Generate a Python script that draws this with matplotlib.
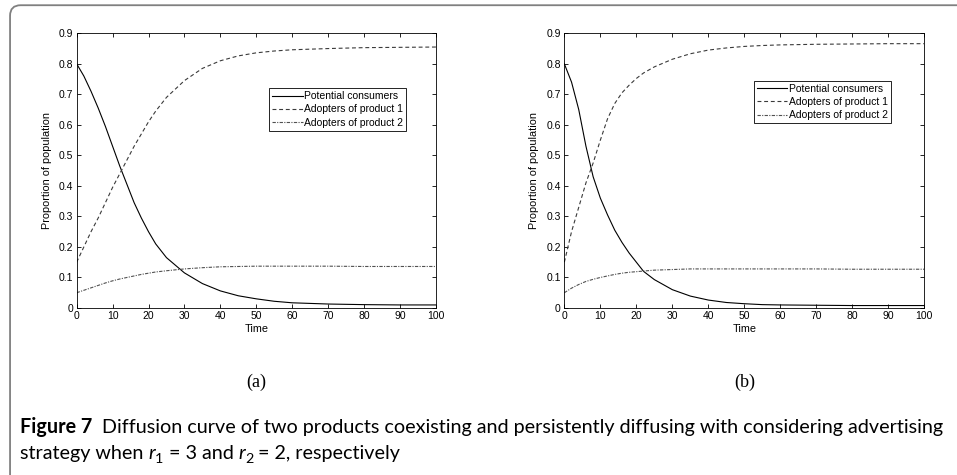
import matplotlib
matplotlib.use("Agg")
import matplotlib.pyplot as plt
from matplotlib.patches import FancyBboxPatch

# time grid shared by both panels
t = [0, 2, 4, 6, 8, 10, 12, 14, 16, 18, 20, 22, 25, 30, 35, 40, 45, 50, 55, 60, 70, 80, 90, 100]

# panel (a): r1 = 3
pot_a = [0.80, 0.76, 0.71, 0.655, 0.595, 0.53, 0.465, 0.405, 0.345, 0.295, 0.25, 0.21, 0.165,
         0.115, 0.08, 0.056, 0.04, 0.03, 0.022, 0.017, 0.013, 0.011, 0.01, 0.01]
p1_a = [0.15, 0.20, 0.25, 0.295, 0.345, 0.395, 0.44, 0.485, 0.53, 0.57, 0.61, 0.645, 0.69,
        0.745, 0.785, 0.81, 0.826, 0.836, 0.842, 0.846, 0.85, 0.853, 0.854, 0.855]
p2_a = [0.05, 0.058, 0.066, 0.074, 0.082, 0.089, 0.095, 0.10, 0.105, 0.11, 0.114, 0.118, 0.122,
        0.128, 0.132, 0.135, 0.136, 0.137, 0.137, 0.137, 0.137, 0.136, 0.136, 0.136]

# panel (b): r2 = 2
pot_b = [0.80, 0.74, 0.65, 0.53, 0.43, 0.36, 0.305, 0.255, 0.215, 0.18, 0.15, 0.12, 0.093,
         0.06, 0.039, 0.026, 0.018, 0.014, 0.011, 0.01, 0.009, 0.008, 0.008, 0.008]
p1_b = [0.15, 0.25, 0.33, 0.41, 0.475, 0.55, 0.62, 0.67, 0.705, 0.73, 0.752, 0.77, 0.79,
        0.815, 0.833, 0.845, 0.852, 0.857, 0.86, 0.862, 0.864, 0.865, 0.866, 0.866]
p2_b = [0.05, 0.065, 0.077, 0.087, 0.094, 0.10, 0.105, 0.11, 0.114, 0.117, 0.119, 0.121, 0.124,
        0.126, 0.128, 0.128, 0.128, 0.128, 0.128, 0.128, 0.128, 0.127, 0.127, 0.127]

labels = ["Potential consumers", "Adopters of product 1", "Adopters of product 2"]
xticks = list(range(0, 101, 10))
yticks = [0, 0.1, 0.2, 0.3, 0.4, 0.5, 0.6, 0.7, 0.8, 0.9]
ytick_labels = ["0", "0.1", "0.2", "0.3", "0.4", "0.5", "0.6", "0.7", "0.8", "0.9"]

plt.rcParams["font.family"] = ["Liberation Sans", "DejaVu Sans"]

fig = plt.figure(figsize=(9.57, 4.75), dpi=100)

# rounded frame of the figure box (open on the right and bottom)
frame = FancyBboxPatch((0.0105, -0.05), 1.2, 1.039, boxstyle="round,pad=0,rounding_size=0.011",
                       transform=fig.transFigure, fill=False, edgecolor="#808080", linewidth=1.3,
                       mutation_aspect=957 / 475)
fig.patches.append(frame)


def panel(rect, pot, p1, p2, leg_anchor, tag):
    ax = fig.add_axes(rect)
    ax.plot(t, pot, color="black", linewidth=0.8, label=labels[0])
    ax.plot(t, p1, color="#3a3a3a", linewidth=0.8, linestyle=(0, (3.5, 2.5)), label=labels[1])
    ax.plot(t, p2, color="#505050", linewidth=0.8, linestyle=(0, (3, 1.2, 1, 1.2)), label=labels[2])
    ax.set_xlim(0, 100)
    ax.set_ylim(0, 0.9)
    ax.set_xticks(xticks)
    ax.set_xticklabels([str(v) for v in xticks])
    ax.set_yticks(yticks)
    ax.set_yticklabels(ytick_labels)
    ax.tick_params(direction="in", top=True, right=True, length=3, width=0.6,
                   labelsize=7.5, pad=2.5)
    for s in ax.spines.values():
        s.set_linewidth(0.6)
    ax.set_xlabel("Time", fontsize=7.8, labelpad=2)
    ax.set_ylabel("Proportion of population", fontsize=7.8, labelpad=5)
    leg = ax.legend(loc="upper left", bbox_to_anchor=leg_anchor, fontsize=7.5, frameon=True,
                    fancybox=False, borderpad=0.3, labelspacing=0.3, handlelength=2.9,
                    handletextpad=0.15, borderaxespad=0)
    leg.get_frame().set_edgecolor("black")
    leg.get_frame().set_linewidth(0.6)
    leg.get_frame().set_alpha(1)
    cx = rect[0] + rect[2] / 2
    fig.text(cx, 0.196, tag, ha="center", va="center", fontsize=13,
             family=["Liberation Serif", "DejaVu Serif"])
    return ax


panel([0.0801, 0.3516, 0.3754, 0.5783], pot_a, p1_a, p2_a, (0.536, 0.80), "(a)")
panel([0.5897, 0.3516, 0.3762, 0.5783], pot_b, p1_b, p2_b, (0.527, 0.827), "(b)")

# caption: bold "Figure 7" followed by regular text, baselines aligned
cap_font = ["Lato", "DejaVu Sans"]
cap_size = 14.2
line1_y = 0.088
line2_y = 0.034
head = fig.text(0.021, line1_y, "Figure 7", fontsize=cap_size, va="baseline", ha="left",
                family=cap_font, weight="bold")
plt.annotate("  Diffusion curve of two products coexisting and persistently diffusing with "
             "considering advertising", xy=(1, line1_y), xycoords=(head, "figure fraction"),
             fontsize=cap_size, va="baseline", ha="left", family=cap_font, annotation_clip=False)

# second line built from pieces so that r gets italic and a subscript
base = fig.text(0.021, line2_y, "strategy when ", fontsize=cap_size, va="baseline", ha="left",
                family=cap_font)
pieces = [("r", "italic", False), ("1", "normal", True), (" = 3 and ", "normal", False),
          ("r", "italic", False), ("2", "normal", True), (" = 2, respectively", "normal", False)]
prev = base
for txt, style, sub in pieces:
    prev = plt.annotate(txt, xy=(1, line2_y), xycoords=(prev, "figure fraction"),
                        xytext=(0, -3.0 if sub else 0), textcoords="offset points",
                        fontsize=cap_size * 0.72 if sub else cap_size, style=style,
                        va="baseline", ha="left", family=cap_font, annotation_clip=False)

fig.savefig("out.png", dpi=100)
